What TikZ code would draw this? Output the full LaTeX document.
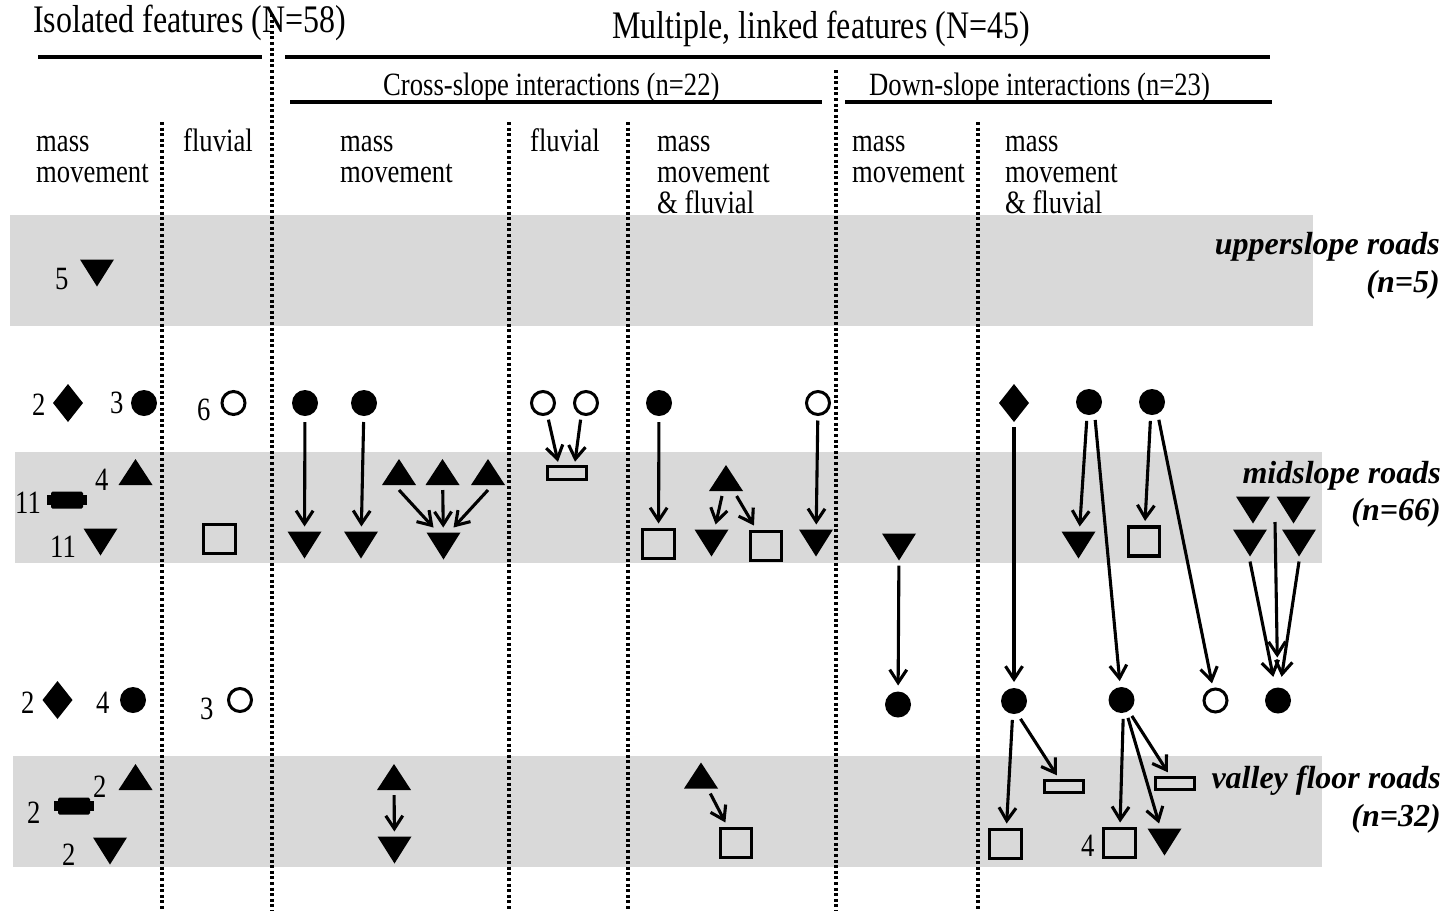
\documentclass[tikz,border=0pt]{standalone}
\usepackage{fontspec}
\setmainfont{Liberation Serif}
\newfontfamily\condfont{Liberation Serif}[FakeStretch=0.82]
\usetikzlibrary{arrows.meta}
\definecolor{band}{HTML}{D9D9D9}
\tikzset{
  fc/.style={circle, fill=black, minimum size=26pt, inner sep=0pt, outer sep=6pt},
  oc/.style={circle, draw=black, line width=3pt, minimum size=23pt, inner sep=0pt, outer sep=6pt},
  sq/.style={rectangle, draw=black, line width=3.2pt, minimum width=31.5pt, minimum height=29pt, inner sep=0pt, outer sep=6pt},
  orect/.style={rectangle, draw=black, line width=3pt, minimum width=39.5pt, minimum height=12.5pt, inner sep=0pt, outer sep=5pt},
  utri/.style={rectangle, inner sep=0pt, minimum width=34pt, minimum height=26pt, outer sep=5pt,
    path picture={\fill[black] (path picture bounding box.south west) -- (path picture bounding box.south east) -- (path picture bounding box.north) -- cycle;}},
  dtri/.style={rectangle, inner sep=0pt, minimum width=34pt, minimum height=27pt, outer sep=5pt,
    path picture={\fill[black] (path picture bounding box.north west) -- (path picture bounding box.north east) -- (path picture bounding box.south) -- cycle;}},
  dia/.style={rectangle, inner sep=0pt, minimum width=30pt, minimum height=38pt, outer sep=5pt,
    path picture={\fill[black] (path picture bounding box.north) -- (path picture bounding box.east) -- (path picture bounding box.south) -- (path picture bounding box.west) -- cycle;}},
  batt/.style={rectangle, inner sep=0pt, minimum width=40pt, minimum height=17pt, outer sep=4pt,
    path picture={
      \fill[black, rounded corners=1.5pt] ([xshift=4pt]path picture bounding box.south west) rectangle ([xshift=-4pt]path picture bounding box.north east);
      \fill[black] ([yshift=3.5pt]path picture bounding box.south west) rectangle ([xshift=5pt,yshift=-3.5pt]path picture bounding box.north west);
      \fill[black] ([xshift=-5pt,yshift=3.5pt]path picture bounding box.south east) rectangle ([yshift=-3.5pt]path picture bounding box.north east);}},
  arr/.style={line width=3.1pt, -{Straight Barb[length=13pt,width=17pt]}},
  dotline/.style={line width=3.6pt, dash pattern=on 3pt off 2.6pt},
  rule/.style={line width=3.4pt},
  txt/.style={font=\condfont\fontsize{32.5}{36}\selectfont, inner sep=0pt, anchor=base west},
  ttl/.style={font=\condfont\fontsize{39}{42}\selectfont, inner sep=0pt, anchor=base west},
  road/.style={font=\bfseries\itshape\fontsize{32}{36}\selectfont, inner sep=0pt, anchor=base east}
}
\begin{document}
\begin{tikzpicture}[x=1pt,y=-1pt]
\useasboundingbox (0,0) rectangle (1450,911);
% bands
\fill[band] (10,215) rectangle (1313,326);
\fill[band] (15,452) rectangle (1322,563);
\fill[band] (13,756) rectangle (1322,867);
% dividers
\draw[dotline] (162,122) -- (162,911);
\draw[dotline] (272,14) -- (272,911);
\draw[dotline] (509,122) -- (509,911);
\draw[dotline] (628,122) -- (628,911);
\draw[dotline] (836,70) -- (836,911);
\draw[dotline] (978,122) -- (978,911);
% header rules
\draw[rule] (38,57) -- (262,57);
\draw[rule] (285,57) -- (1270,57);
\draw[rule] (290,102) -- (822,102);
\draw[rule] (845,102) -- (1272,102);
% titles
\node[ttl] (t1) at (33,32) {Isolated features (N=58)};
\node[ttl] (t2) at (612,38) {Multiple, linked features (N=45)};
\node[txt] (t3) at (383,95) {Cross-slope interactions (n=22)};
\node[txt] (t4) at (869,95) {Down-slope interactions (n=23)};
% column headers
\node[txt] (h1a) at (36,151) {mass};
\node[txt] (h1b) at (36,182) {movement};
\node[txt] (h2a) at (183,151) {fluvial};
\node[txt] (h3a) at (340,151) {mass};
\node[txt] (h3b) at (340,182) {movement};
\node[txt] (h4a) at (530,151) {fluvial};
\node[txt] (h5a) at (657,151) {mass};
\node[txt] (h5b) at (657,182) {movement};
\node[txt] (h5c) at (657,213) {\& fluvial};
\node[txt] (h6a) at (852,151) {mass};
\node[txt] (h6b) at (852,182) {movement};
\node[txt] (h7a) at (1005,151) {mass};
\node[txt] (h7b) at (1005,182) {movement};
\node[txt] (h7c) at (1005,213) {\& fluvial};
% road labels
\node[road] (r1a) at (1440,254) {upperslope roads};
\node[road] (r1b) at (1440,292) {(n=5)};
\node[road] (r2a) at (1441,483) {midslope roads};
\node[road] (r2b) at (1441,520) {(n=66)};
\node[road] (r3a) at (1441,788) {valley floor roads};
\node[road] (r3b) at (1441,826) {(n=32)};
% isolated features
\node[txt] (n1) at (55,289) {5};
\node[dtri] (i1) at (97,273) {};
\node[txt] (n2) at (32,415) {2};
\node[dia] (i2) at (68,403) {};
\node[txt] (n3) at (110,413) {3};
\node[fc] (i3) at (144,403) {};
\node[txt] (n4) at (197,420) {6};
\node[oc] (i4) at (233.5,403) {};
\node[txt] (n5) at (95,490) {4};
\node[utri] (i5) at (135.5,472) {};
\node[txt] (n6) at (15,513) {11};
\node[batt] (i6) at (67,500) {};
\node[txt] (n7) at (50,557) {11};
\node[dtri] (i7) at (100.5,542) {};
\node[sq] (i8) at (219.5,539) {};
\node[txt] (n8) at (21,713) {2};
\node[dia] (i9) at (57.5,700) {};
\node[txt] (n9) at (96,713) {4};
\node[fc] (i10) at (133,700) {};
\node[txt] (n10) at (200,719) {3};
\node[oc] (i11) at (240,700) {};
\node[txt] (n11) at (93,797) {2};
\node[utri] (i12) at (135.5,777) {};
\node[txt] (n12) at (27,823) {2};
\node[batt] (i13) at (74,806) {};
\node[txt] (n13) at (62,865) {2};
\node[dtri] (i14) at (110,851) {};
% cross-slope, mass movement
\node[fc] (a1) at (305,403) {};
\node[fc] (a2) at (364,403) {};
\node[dtri] (a3) at (304.5,545) {};
\node[dtri] (a4) at (361,545) {};
\node[utri] (a5) at (399,472) {};
\node[utri] (a6) at (442.5,472) {};
\node[utri] (a7) at (488,472) {};
\node[dtri] (a8) at (443.5,546) {};
\draw[arr] (a1) -- (a3);
\draw[arr] (a2) -- (a4);
\draw[arr] (a5.south) -- ([xshift=-10pt]a8.north);
\draw[arr] (a6) -- (a8);
\draw[arr] (a7.south) -- ([xshift=10pt]a8.north);
% cross-slope, fluvial
\node[oc] (b1) at (543,403) {};
\node[oc] (b2) at (586,403) {};
\node[orect] (b3) at (567,473) {};
\draw[arr] (b1.-72) -- ([xshift=-9pt]b3.north);
\draw[arr] (b2.-108) -- ([xshift=8pt]b3.north);
% cross-slope, mass movement & fluvial
\node[fc] (c1) at (659,403) {};
\node[sq] (c2) at (658.5,544) {};
\node[utri] (c3) at (726,478) {};
\node[dtri] (c4) at (711.5,543) {};
\node[sq] (c5) at (766,546) {};
\node[oc] (c6) at (818,403) {};
\node[dtri] (c7) at (816,543) {};
\draw[arr] (c1) -- (c2);
\draw[arr] (c3) -- (c4);
\draw[arr] (c3) -- (c5);
\draw[arr] (c6) -- (c7);
% down-slope, mass movement
\node[dtri] (d1) at (899,547) {};
\node[fc] (d2) at (898,704.5) {};
\draw[arr] (d1) -- (d2);
% down-slope, mass movement & fluvial
\node[dia] (e1) at (1014,403) {};
\node[fc] (e2) at (1089,402) {};
\node[fc] (e3) at (1152,402) {};
\node[dtri] (e4) at (1078.5,545) {};
\node[sq] (e5) at (1144,541.5) {};
\node[dtri] (e6) at (1253,510) {};
\node[dtri] (e7) at (1293.5,510) {};
\node[dtri] (e8) at (1250,543) {};
\node[dtri] (e9) at (1299,543) {};
\node[fc] (e10) at (1014,701) {};
\node[fc] (e11) at (1121.5,700) {};
\node[oc] (e12) at (1215.5,700.5) {};
\node[fc] (e13) at (1278,700.5) {};
\node[orect] (e14) at (1064,786.5) {};
\node[sq] (e15) at (1005.5,844) {};
\node[txt] (n14) at (1081,856) {4};
\node[sq] (e16) at (1119.5,843) {};
\node[dtri] (e17) at (1164.5,842) {};
\node[orect] (e18) at (1175,783.5) {};
\coordinate (m) at (1275,522);
\draw[arr] (e1) -- (e10);
\draw[arr] (e2.-97) -- (e4);
\draw[arr] (e2.-71) -- (e11);
\draw[arr] (e3.-95) -- (e5);
\draw[arr] (e3.-69) -- (e12);
\draw[arr, shorten >=5pt] (e8.south) -- (e13);
\draw[arr, shorten >=24pt] (m) -- (e13);
\draw[arr, shorten >=5pt] (e9.south) -- (e13);
\draw[arr] (e10.-95) -- (e15);
\draw[arr] (e10.-70) -- (e14);
\draw[arr] (e11.-85) -- (e16);
\draw[arr] (e11.-70) -- (e17);
\draw[arr] (e11.-57) -- (e18);
% valley floor
\node[utri] (f1) at (394,777) {};
\node[dtri] (f2) at (394.5,850) {};
\draw[arr] (f1) -- (f2);
\node[utri] (g1) at (701,775.5) {};
\node[sq] (g2) at (736,843) {};
\draw[arr] (g1) -- (g2);
\end{tikzpicture}
\end{document}
